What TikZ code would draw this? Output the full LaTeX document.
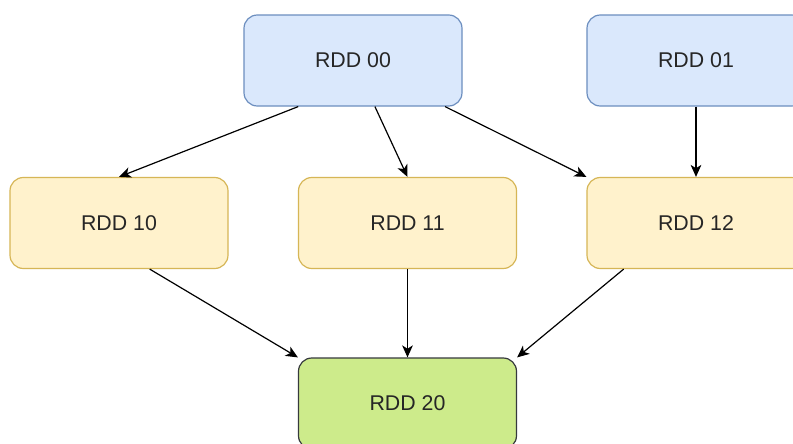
\documentclass[tikz,border=0pt]{standalone}
\usepackage{fontspec}
\setmainfont{Liberation Sans}
\usetikzlibrary{arrows.meta,calc}

\definecolor{bluefill}{HTML}{DAE8FC}
\definecolor{bluedraw}{HTML}{6C8EBF}
\definecolor{yellowfill}{HTML}{FFF2CC}
\definecolor{yellowdraw}{HTML}{D6B656}
\definecolor{greenfill}{HTML}{CDEB8B}
\definecolor{greendraw}{HTML}{36393D}

\begin{document}
\begin{tikzpicture}[x=0.75pt, y=-0.75pt,
    rdd/.style={rectangle, rounded corners=10pt, line width=0.9pt,
        minimum width=163.5pt, minimum height=68.25pt,
        font=\fontsize{16}{19}\selectfont, text=black!85},
    stage0/.style={rdd, fill=bluefill, draw=bluedraw},
    stage1/.style={rdd, fill=yellowfill, draw=yellowdraw},
    stage2/.style={rdd, fill=greenfill, draw=greendraw},
    dep/.style={-{Stealth[length=9pt, width=8pt, inset=2.5pt]}, line width=0.9pt, black}]

    % Page size
    \def\xmax{793}
    \def\ymax{443}
    \useasboundingbox (0, 0) rectangle (\xmax, \ymax);
    \clip (0, 0) rectangle (\xmax, \ymax);
    \fill[white] (0, 0) rectangle (\xmax, \ymax);

    % Parent RDDs
    \node[stage0] (r00) at (353, 60.5) {RDD 00};
    \node[stage0] (r01) at (696, 60.5) {RDD 01};

    % Middle RDDs
    \node[stage1] (r10) at (119, 223) {RDD 10};
    \node[stage1] (r11) at (407.5, 223) {RDD 11};
    \node[stage1] (r12) at (696, 223) {RDD 12};

    % Result RDD
    \node[stage2] (r20) at (407.5, 403.5) {RDD 20};

    % Dependencies from RDD 00
    \draw[dep] ($(r00.south west)!0.25!(r00.south east)$) -- (r10.north);
    \draw[dep] ($(r00.south west)!0.6!(r00.south east)$) -- (r11.north);
    \draw[dep] ($(r00.south west)!0.92!(r00.south east)$) -- (r12.north west);
    \draw[dep] (r01.south) -- (r12.north);

    % Dependencies into RDD 20
    \draw[dep] ($(r10.south west)!0.64!(r10.south east)$) -- (r20.north west);
    \draw[dep] (r11.south) -- (r20.north);
    \draw[dep] ($(r12.south west)!0.17!(r12.south east)$) -- (r20.north east);

\end{tikzpicture}
\end{document}
